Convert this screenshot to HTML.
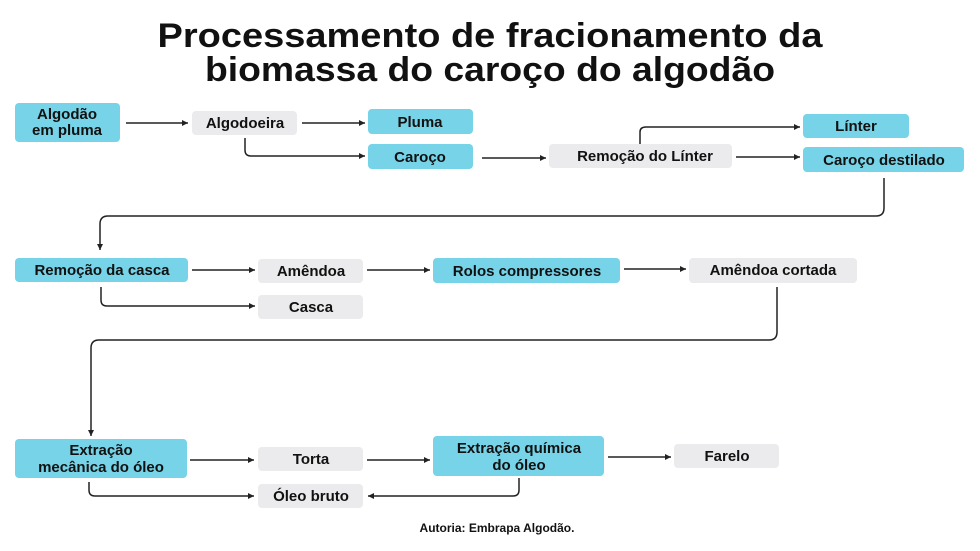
<!DOCTYPE html>
<html><head><meta charset="utf-8"><style>
html,body{margin:0;padding:0;background:#fff;}
svg{display:block}
text{font-family:"Liberation Sans",sans-serif;font-weight:bold;fill:#111;}
.b{fill:#76d3e8}
.g{fill:#ebebed}
.l{fill:none;stroke:#222;stroke-width:1.5}
</style></head><body>
<svg width="980" height="551" viewBox="0 0 980 551" xmlns="http://www.w3.org/2000/svg">
<defs><marker id="a" markerWidth="8" markerHeight="8" refX="6" refY="4" orient="auto" markerUnits="userSpaceOnUse"><path d="M0,1 L6,4 L0,7 Z" fill="#222"/></marker></defs>
<text x="490" y="47" font-size="34" text-anchor="middle" textLength="665" lengthAdjust="spacingAndGlyphs">Processamento de fracionamento da</text>
<text x="490" y="81" font-size="34" text-anchor="middle" textLength="570" lengthAdjust="spacingAndGlyphs">biomassa do caroço do algodão</text>

<!-- boxes -->
<rect class="b" x="15" y="103" width="105" height="39" rx="4"/>
<rect class="g" x="192" y="111" width="105" height="24" rx="4"/>
<rect class="b" x="368" y="109" width="105" height="25" rx="4"/>
<rect class="b" x="368" y="144" width="105" height="25" rx="4"/>
<rect class="g" x="549" y="144" width="183" height="24" rx="4"/>
<rect class="b" x="803" y="114" width="106" height="24" rx="4"/>
<rect class="b" x="803" y="147" width="161" height="25" rx="4"/>
<rect class="b" x="15" y="258" width="173" height="24" rx="4"/>
<rect class="g" x="258" y="259" width="105" height="24" rx="4"/>
<rect class="g" x="258" y="295" width="105" height="24" rx="4"/>
<rect class="b" x="433" y="258" width="187" height="25" rx="4"/>
<rect class="g" x="689" y="258" width="168" height="25" rx="4"/>
<rect class="b" x="15" y="439" width="172" height="39" rx="4"/>
<rect class="g" x="258" y="447" width="105" height="24" rx="4"/>
<rect class="b" x="433" y="436" width="171" height="40" rx="4"/>
<rect class="g" x="674" y="444" width="105" height="24" rx="4"/>
<rect class="g" x="258" y="484" width="105" height="24" rx="4"/>

<!-- labels -->
<g font-size="15" text-anchor="middle">
<text x="67" y="119">Algodão</text>
<text x="67" y="135">em pluma</text>
<text x="245" y="128">Algodoeira</text>
<text x="420" y="127">Pluma</text>
<text x="420" y="162">Caroço</text>
<text x="645" y="161">Remoção do Línter</text>
<text x="856" y="131">Línter</text>
<text x="884" y="165">Caroço destilado</text>
<text x="102" y="275">Remoção da casca</text>
<text x="311" y="276">Amêndoa</text>
<text x="311" y="312">Casca</text>
<text x="527" y="276">Rolos compressores</text>
<text x="773" y="275">Amêndoa cortada</text>
<text x="101" y="455">Extração</text>
<text x="101" y="472">mecânica do óleo</text>
<text x="311" y="464">Torta</text>
<text x="519" y="453">Extração química</text>
<text x="519" y="470">do óleo</text>
<text x="727" y="461">Farelo</text>
<text x="311" y="501">Óleo bruto</text>
</g>
<text x="497" y="532" font-size="12" text-anchor="middle">Autoria: Embrapa Algodão.</text>

<!-- connectors -->
<g class="l">
<path d="M126 123 H188" marker-end="url(#a)"/>
<path d="M302 123 H365" marker-end="url(#a)"/>
<path d="M245 138 V150 Q245 156 251 156 H365" marker-end="url(#a)"/>
<path d="M482 158 H546" marker-end="url(#a)"/>
<path d="M736 157 H800" marker-end="url(#a)"/>
<path d="M640 144 V132 Q640 127 646 127 H800" marker-end="url(#a)"/>
<path d="M884 178 V208 Q884 216 876 216 H108 Q100 216 100 224 V250" marker-end="url(#a)"/>
<path d="M192 270 H255" marker-end="url(#a)"/>
<path d="M101 287 V300 Q101 306 107 306 H255" marker-end="url(#a)"/>
<path d="M367 270 H430" marker-end="url(#a)"/>
<path d="M624 269 H686" marker-end="url(#a)"/>
<path d="M777 287 V332 Q777 340 769 340 H99 Q91 340 91 348 V436" marker-end="url(#a)"/>
<path d="M190 460 H254" marker-end="url(#a)"/>
<path d="M89 482 V490 Q89 496 95 496 H254" marker-end="url(#a)"/>
<path d="M367 460 H430" marker-end="url(#a)"/>
<path d="M608 457 H671" marker-end="url(#a)"/>
<path d="M519 478 V490 Q519 496 513 496 H368" marker-end="url(#a)"/>
</g>
</svg>
</body></html>
